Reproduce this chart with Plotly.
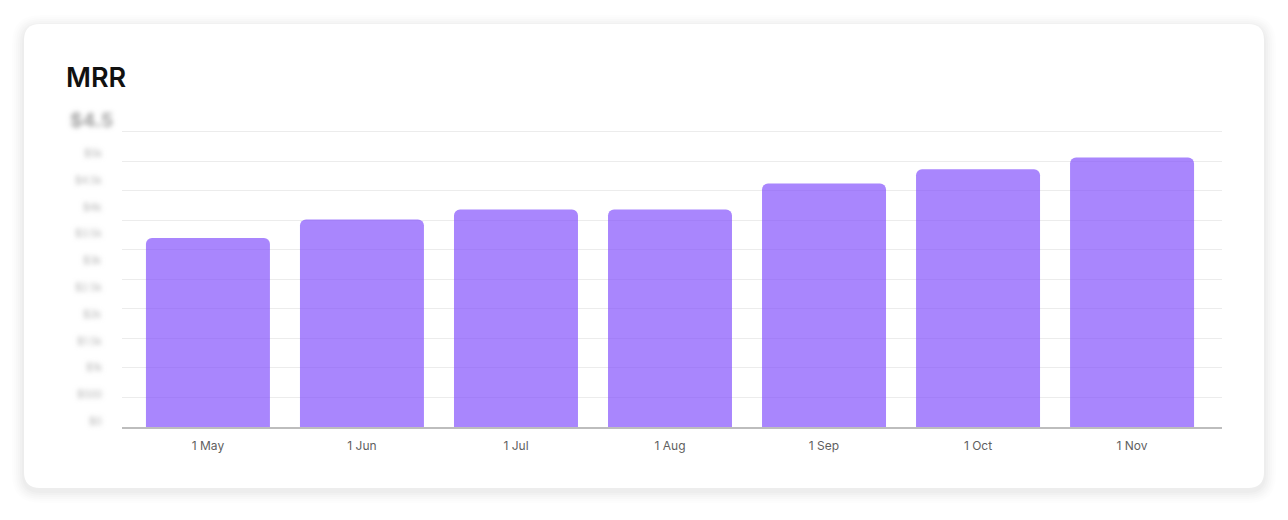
import plotly.graph_objects as go

# data
months = ["1 May", "1 Jun", "1 Jul", "1 Aug", "1 Sep", "1 Oct", "1 Nov"]
mrr = [3200, 3510, 3680, 3680, 4120, 4360, 4560]
y_labels = ["$0", "$500", "$1k", "$1.5k", "$2k", "$2.5k", "$3k", "$3.5k", "$4k", "$4.5k", "$5k"]

W, H = 1288, 520
L, R, T, B = 122, 66, 128, 93
PW, PH = W - L - R, H - T - B


def px_x(x):
    return (x - L) / PW


def px_y(y):
    return (H - B - y) / PH


def rounded_rect(x0, y0, x1, y1, r):
    # rounded rectangle path in paper coords, from pixel box
    X = lambda v: px_x(v)
    Y = lambda v: px_y(v)
    return (
        f"M {X(x0 + r)},{Y(y0)} L {X(x1 - r)},{Y(y0)} Q {X(x1)},{Y(y0)} {X(x1)},{Y(y0 + r)} "
        f"L {X(x1)},{Y(y1 - r)} Q {X(x1)},{Y(y1)} {X(x1 - r)},{Y(y1)} "
        f"L {X(x0 + r)},{Y(y1)} Q {X(x0)},{Y(y1)} {X(x0)},{Y(y1 - r)} "
        f"L {X(x0)},{Y(y0 + r)} Q {X(x0)},{Y(y0)} {X(x0 + r)},{Y(y0)} Z"
    )


fig = go.Figure()
fig.add_trace(go.Bar(
    x=list(range(len(months))),
    y=mrr,
    marker=dict(color="rgba(133,82,252,0.7)", cornerradius=6, line=dict(width=0)),
    hoverinfo="skip",
))

# card with a soft shadow
shapes = []
for i, a in enumerate([0.006, 0.008, 0.01, 0.012, 0.014, 0.016]):
    g = 12 - i * 2
    shapes.append(dict(type="path", xref="paper", yref="paper", layer="below",
                       path=rounded_rect(24 - g, 24 - g + 3, 1264 + g, 488 + g + 3, 16 + g),
                       fillcolor=f"rgba(0,0,0,{a})", line=dict(width=0)))
shapes.append(dict(type="path", xref="paper", yref="paper", layer="below",
                   path=rounded_rect(24, 24, 1264, 488, 16),
                   fillcolor="white", line=dict(width=0)))

annotations = [dict(text="MRR", xref="paper", yref="paper", x=px_x(64), y=px_y(78),
                    xanchor="left", yanchor="middle", showarrow=False,
                    font=dict(family="Inter", size=27, color="#111111", weight=600))]

# placeholder (blurred) y labels
for i, t in enumerate(y_labels):
    annotations.append(dict(text=t, xref="paper", yref="paper", x=px_x(104),
                            y=px_y(421 - i * 26.8), xanchor="right", yanchor="middle",
                            showarrow=False, font=dict(family="Inter", size=10, color="#b0b0b0")))
annotations.append(dict(text="$4.5", xref="paper", yref="paper", x=px_x(68), y=px_y(120),
                        xanchor="left", yanchor="middle", showarrow=False,
                        font=dict(family="Inter", size=19, color="#a0a0a0", weight=700)))

fig.update_layout(
    width=W, height=H,
    margin=dict(l=L, r=R, t=T, b=B),
    paper_bgcolor="white",
    plot_bgcolor="rgba(0,0,0,0)",
    showlegend=False,
    bargap=0.195,
    shapes=shapes,
    annotations=annotations,
    xaxis=dict(
        tickmode="array", tickvals=list(range(len(months))), ticktext=months,
        range=[-0.558, 6.584], showgrid=False, zeroline=False,
        showline=True, linecolor="#bdbdbd", linewidth=1.5,
        ticks="", ticklabelstandoff=7,
        tickfont=dict(family="Inter", size=12, color="#5f5f5f"),
    ),
    yaxis=dict(
        range=[0, 5060], tickmode="linear", tick0=0, dtick=500,
        showgrid=True, gridcolor="#ececec", gridwidth=1,
        zeroline=False, showticklabels=False, ticks="",
    ),
)

blur_js = """
document.body.style.margin = '0';
var gd = document.getElementsByClassName('plotly-graph-div')[0];
var svg = gd.querySelector('svg.main-svg');
var ns = 'http://www.w3.org/2000/svg';
var defs = svg.querySelector('defs') || svg.insertBefore(document.createElementNS(ns,'defs'), svg.firstChild);
var f = document.createElementNS(ns, 'filter');
f.setAttribute('id', 'lblblur');
f.setAttribute('x', '-50%'); f.setAttribute('y', '-100%');
f.setAttribute('width', '200%'); f.setAttribute('height', '300%');
var b = document.createElementNS(ns, 'feGaussianBlur');
b.setAttribute('stdDeviation', '2.4');
f.appendChild(b); defs.appendChild(f);
gd.querySelectorAll('g.annotation text').forEach(function(t){
  if (t.textContent.indexOf('$') === 0) { t.setAttribute('filter', 'url(#lblblur)'); }
});
"""

fig.write_html("out.html", post_script=blur_js, config={"displayModeBar": False})
